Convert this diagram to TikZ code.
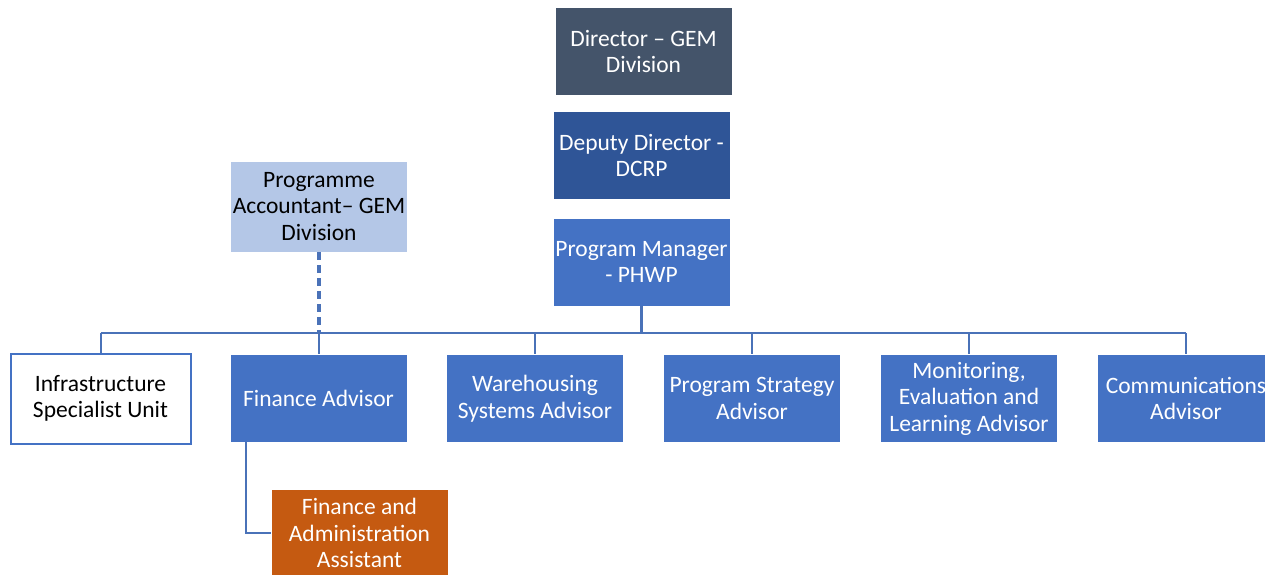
\documentclass[tikz,border=0pt]{standalone}
\usepackage{fontspec}
\setmainfont{Carlito}
\definecolor{slate}{HTML}{44546A}
\definecolor{dblue}{HTML}{2F5597}
\definecolor{mblue}{HTML}{4472C4}
\definecolor{lblue}{HTML}{B4C7E7}
\definecolor{orng}{HTML}{C55A11}
\definecolor{lnc}{HTML}{4A72B8}
\tikzset{
  box/.style={draw=white, line width=0.6pt, minimum width=177pt, minimum height=88pt, inner sep=1pt,
    align=center, font=\fontsize{23.5}{26.5}\selectfont, text=white},
  conn/.style={draw=lnc, line width=2pt},
}
\begin{document}
\begin{tikzpicture}[x=1pt,y=-1pt]
\useasboundingbox (0,0) rectangle (1265,575);
\node[box, fill=slate] (dir) at (643.5,51.5) {Director -- GEM\\Division};
\node[box, fill=dblue] (dep) at (641.5,155.5) {Deputy Director -\\DCRP};
\node[box, fill=mblue] (pm) at (641.5,262) {Program Manager\\- PHWP};
\node[box, fill=lblue, text=black, minimum height=91pt] (acc) at (319,206.5) {Programme\\Accountant-- GEM\\Division};
\node[box, fill=white, draw=mblue, line width=2pt, text=black, minimum width=180pt, minimum height=90pt] (inf) at (100.5,398.5) {Infrastructure\\Specialist Unit};
\node[box, fill=mblue] (fin) at (318.5,398.5) {Finance Advisor};
\node[box, fill=mblue] (war) at (535,398.5) {Warehousing\\Systems Advisor};
\node[box, fill=mblue] (str) at (752,398.5) {Program Strategy\\Advisor};
\node[box, fill=mblue] (mel) at (969,398.5) {Monitoring,\\Evaluation and\\Learning Advisor};
\node[box, fill=mblue, minimum width=178pt] (com) at (1186,398.5) {Communications\\Advisor};
\node[box, fill=orng] (faa) at (359.5,533) {Finance and\\Administration\\Assistant};
\coordinate (bus) at (641.5,333);
\draw[conn, line width=3pt] (pm.south) -- (bus);
\draw[conn] (inf.north |- bus) -- (com.north |- bus);
\foreach \n in {inf,fin,war,str,mel,com}{
  \draw[conn] (\n.north |- bus) -- (\n.north);
}
\draw[conn, line width=4pt, dash pattern=on 8pt off 5pt] (acc.south) -- (acc.south |- bus);
\draw[conn] (246,442) |- (faa.west);
\end{tikzpicture}
\end{document}
